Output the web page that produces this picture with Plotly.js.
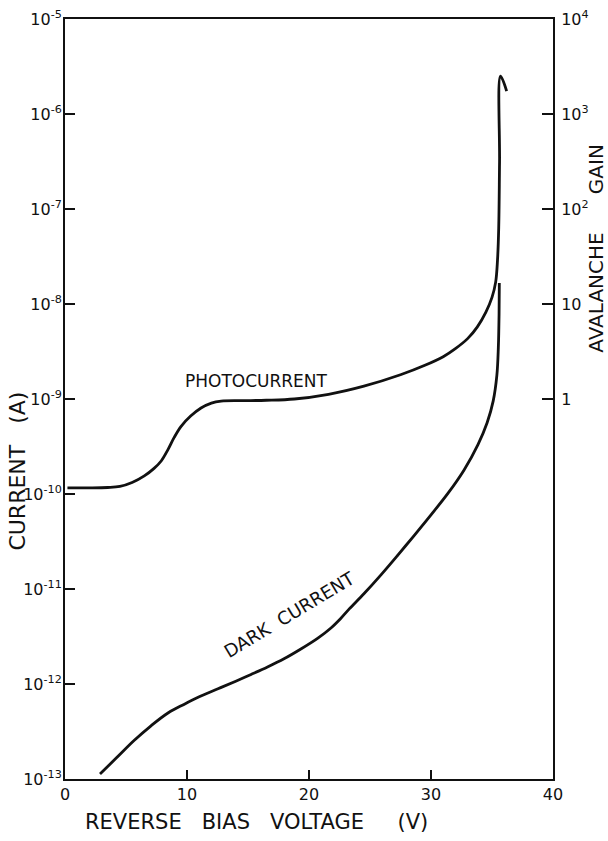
<!DOCTYPE html>
<html><head><meta charset="utf-8">
<script src="https://cdn.plot.ly/plotly-3.0.1.min.js"></script>
<style>html,body{margin:0;padding:0;background:#fff}</style>
</head><body>
<div id="chart" style="width:608px;height:841px"></div>
<script>
// Photocurrent (A) vs reverse bias (V)
const photoVoltage = [0.2, 2.0, 3.5, 4.5, 5.5, 6.5, 7.3, 7.9, 8.45, 8.95, 9.5, 10.3, 11.15, 12.0, 12.8, 14.5, 16.5, 18.8, 21.6, 24.5, 27.5, 29.5, 31.0, 32.0, 33.0, 33.8, 34.5, 35.0, 35.3, 35.45, 35.55, 35.62, 35.7, 36.2];
const photoCurrent = [1.16e-10, 1.16e-10, 1.17e-10, 1.2e-10, 1.32e-10, 1.55e-10, 1.86e-10, 2.24e-10, 2.95e-10, 3.94e-10, 5.13e-10, 6.61e-10, 8.04e-10, 9.06e-10, 9.5e-10, 9.6e-10, 9.7e-10, 1.0e-9, 1.12e-9, 1.365e-9, 1.8e-9, 2.265e-9, 2.79e-9, 3.39e-9, 4.32e-9, 5.75e-9, 8.22e-9, 1.175e-8, 1.7e-8, 2.88e-8, 6.3e-8, 3.16e-7, 2.5e-6, 1.74e-6];
// Dark current (A) vs reverse bias (V)
const darkVoltage = [2.87, 4.2, 5.66, 7.05, 8.44, 9.75, 11.0, 12.54, 14.0, 15.25, 16.6, 17.95, 19.3, 20.7, 21.8, 22.6, 23.3, 24.5, 25.9, 27.3, 28.6, 30.0, 31.4, 32.7, 33.85, 34.6, 35.1, 35.4, 35.52, 35.58, 35.6];
const darkCurrent = [1.13e-13, 1.66e-13, 2.54e-13, 3.63e-13, 4.95e-13, 6.1e-13, 7.33e-13, 8.91e-13, 1.07e-12, 1.26e-12, 1.51e-12, 1.84e-12, 2.32e-12, 3.02e-12, 3.89e-12, 4.9e-12, 6.17e-12, 8.91e-12, 1.41e-11, 2.29e-11, 3.63e-11, 6.03e-11, 1.02e-10, 1.78e-10, 3.31e-10, 5.62e-10, 9.55e-10, 1.78e-9, 3.47e-9, 7.94e-9, 1.66e-8];

const xTickVals = [0, 10, 20, 30, 40];
const xTickText = ['0', '10', '20', '30', '40'];
const currentTickVals = [1e-13, 1e-12, 1e-11, 1e-10, 1e-9, 1e-8, 1e-7, 1e-6, 1e-5];
const currentTickText = ['10<sup>-13</sup>', '10<sup>-12</sup>', '10<sup>-11</sup>', '10<sup>-10</sup>', '10<sup>-9</sup>', '10<sup>-8</sup>', '10<sup>-7</sup>', '10<sup>-6</sup>', '10<sup>-5</sup>'];
const gainTickVals = [1, 10, 100, 1000, 10000];
const gainTickText = ['1', '10', '10<sup>2</sup>', '10<sup>3</sup>', '10<sup>4</sup>'];

const FONT = 'DejaVu Sans, Arial, sans-serif';
const INK = '#111';
const NB = '\u00a0';

const traces = [
  {x: photoVoltage, y: photoCurrent, type: 'scatter', mode: 'lines',
   line: {color: INK, width: 2.8, shape: 'spline', smoothing: 1.0}, hoverinfo: 'skip', showlegend: false},
  {x: darkVoltage, y: darkCurrent, type: 'scatter', mode: 'lines',
   line: {color: INK, width: 2.8, shape: 'spline', smoothing: 1.0}, hoverinfo: 'skip', showlegend: false},
  {x: [null], y: [null], yaxis: 'y2', type: 'scatter', mode: 'lines', hoverinfo: 'skip', showlegend: false}
];

const layout = {
  width: 608, height: 841,
  margin: {l: 65, r: 55, t: 19, b: 62},
  paper_bgcolor: '#fff', plot_bgcolor: '#fff',
  font: {family: FONT, color: INK, size: 16},
  xaxis: {
    range: [0, 40], tickvals: xTickVals, ticktext: xTickText,
    ticks: 'inside', ticklen: 9, tickwidth: 2, tickcolor: INK,
    showline: true, linewidth: 2, linecolor: INK, mirror: true,
    showgrid: false, zeroline: false, tickfont: {size: 16}
  },
  yaxis: {
    type: 'log', range: [-13, -5], tickvals: currentTickVals, ticktext: currentTickText,
    ticks: 'inside', ticklen: 10, tickwidth: 2, tickcolor: INK,
    showline: true, linewidth: 2, linecolor: INK, ticklabelstandoff: -2,
    showgrid: false, zeroline: false, tickfont: {size: 16}
  },
  yaxis2: {
    type: 'log', range: [-4, 4], overlaying: 'y', side: 'right',
    tickvals: gainTickVals, ticktext: gainTickText,
    ticks: 'inside', ticklen: 11, tickwidth: 2, tickcolor: INK, ticklabelstandoff: 3,
    showline: true, linewidth: 2, linecolor: INK,
    showgrid: false, zeroline: false, tickfont: {size: 16}
  },
  annotations: [
    {text: 'PHOTOCURRENT', x: 15.66, y: -8.81, xref: 'x', yref: 'y', showarrow: false,
     xanchor: 'center', yanchor: 'middle', font: {size: 17, color: INK}},
    {text: 'DARK' + NB + NB + 'CURRENT', x: 18.4, y: -11.27, xref: 'x', yref: 'y', showarrow: false,
     xanchor: 'center', yanchor: 'middle', textangle: -31, font: {size: 18, color: INK}},
    {text: 'REVERSE' + NB.repeat(3) + 'BIAS' + NB.repeat(3) + 'VOLTAGE' + NB.repeat(5) + '(V)', x: 0.393, y: -0.057,
     xref: 'paper', yref: 'paper', showarrow: false, xanchor: 'center', yanchor: 'middle',
     font: {size: 21, color: INK}},
    {text: 'CURRENT' + NB.repeat(3) + '(A)', x: -0.0975, y: 0.405, xref: 'paper', yref: 'paper',
     showarrow: false, xanchor: 'center', yanchor: 'middle', textangle: -90, font: {size: 22, color: INK}},
    {text: 'AVALANCHE' + NB.repeat(6) + 'GAIN', x: 1.088, y: 0.699, xref: 'paper', yref: 'paper',
     showarrow: false, xanchor: 'center', yanchor: 'middle', textangle: -90, font: {size: 20, color: INK}}
  ]
};

Plotly.newPlot('chart', traces, layout, {staticPlot: true, displayModeBar: false});
</script>
</body></html>
